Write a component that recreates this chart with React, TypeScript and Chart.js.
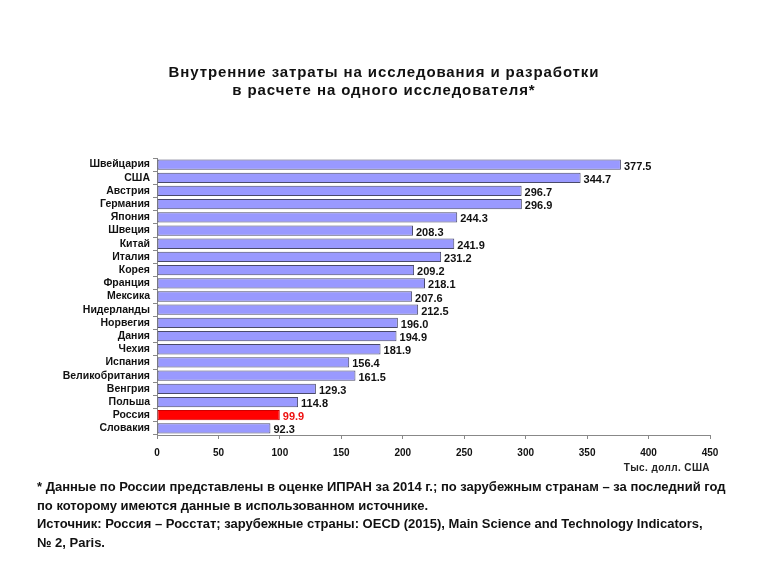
import React, { useEffect, useRef } from "react";
import { Chart, registerables } from "chart.js";

Chart.register(...registerables);

const categories = [
  "Швейцария", "США", "Австрия", "Германия", "Япония", "Швеция", "Китай",
  "Италия", "Корея", "Франция", "Мексика", "Нидерланды", "Норвегия", "Дания",
  "Чехия", "Испания", "Великобритания", "Венгрия", "Польша", "Россия", "Словакия",
];
const values = [
  377.5, 344.7, 296.7, 296.9, 244.3, 208.3, 241.9, 231.2, 209.2, 218.1, 207.6,
  212.5, 196.0, 194.9, 181.9, 156.4, 161.5, 129.3, 114.8, 99.9, 92.3,
];
const highlight = "Россия";
const xTicks = [0, 50, 100, 150, 200, 250, 300, 350, 400, 450];

const titleLines = [
  "Внутренние затраты на исследования и разработки",
  "в расчете на одного исследователя*",
];
const unitLabel = "Тыс. долл. США";
const footnoteLines = [
  "* Данные по России представлены в оценке ИПРАН за 2014 г.; по зарубежным странам – за последний год",
  "по которому имеются данные в использованном источнике.",
  "Источник: Россия – Росстат; зарубежные страны: OECD (2015), Main Science and Technology Indicators,",
  "№ 2, Paris.",
];

const FONT = "'Liberation Sans', Arial, sans-serif";

const valueLabels = {
  id: "valueLabels",
  afterDatasetsDraw(chart: any) {
    const ctx = chart.ctx;
    const meta = chart.getDatasetMeta(0);
    ctx.save();
    ctx.font = `bold 11px ${FONT}`;
    ctx.textBaseline = "middle";
    ctx.textAlign = "left";
    meta.data.forEach((bar: any, i: number) => {
      ctx.fillStyle = categories[i] === highlight ? "#ee1111" : "#111111";
      ctx.fillText(values[i].toFixed(1), bar.x + 3, bar.y + 2);
    });
    ctx.restore();
  },
};

export default function App() {
  const ref = useRef<HTMLCanvasElement>(null);
  useEffect(() => {
    const chart = new Chart(ref.current!, {
      type: "bar",
      data: {
        labels: categories,
        datasets: [
          {
            data: values,
            backgroundColor: categories.map((c) => (c === highlight ? "#ff0000" : "#9999ff")),
            borderColor: categories.map((c) => (c === highlight ? "#cc0000" : "#4a4a6a")),
            borderWidth: 1,
            borderSkipped: false,
            barPercentage: 0.78,
            categoryPercentage: 1,
          },
        ],
      },
      options: {
        indexAxis: "y",
        animation: false,
        responsive: false,
        devicePixelRatio: 1,
        layout: { padding: { left: 0, right: 58, top: 158, bottom: 111 } },
        plugins: { legend: { display: false }, tooltip: { enabled: false }, title: { display: false } },
        scales: {
          x: {
            min: 0,
            max: 450,
            afterBuildTicks: (scale: any) => {
              scale.ticks = xTicks.map((v) => ({ value: v }));
            },
            afterFit: (scale: any) => {
              scale.height = 30;
            },
            grid: { drawOnChartArea: false, color: "#888888", tickLength: 4 },
            border: { color: "#888888" },
            ticks: { color: "#111111", font: { family: FONT, size: 10, weight: "bold" }, padding: 8, maxRotation: 0 },
          },
          y: {
            afterFit: (scale: any) => {
              scale.width = 157;
            },
            grid: { drawOnChartArea: false, color: "#888888", tickLength: 4, offset: true },
            border: { color: "#888888" },
            ticks: { color: "#111111", font: { family: FONT, size: 10.5, weight: "bold" }, padding: 3, autoSkip: false },
          },
        },
      },
      plugins: [valueLabels],
    } as any);
    return () => chart.destroy();
  }, []);

  return (
    <div style={{ position: "absolute", left: 0, top: 0, width: 768, height: 576, background: "#fff", overflow: "hidden" }}>
      <canvas ref={ref} width={768} height={576} style={{ position: "absolute", left: 0, top: 0, width: 768, height: 576 }} />
      <div
        style={{
          position: "absolute", left: 0, top: 63, width: 768, textAlign: "center",
          fontFamily: FONT, fontWeight: "bold", fontSize: 15, lineHeight: "18px", color: "#111",
          letterSpacing: "0.9px",
        }}
      >
        {titleLines.map((t, i) => (
          <div key={i}>{t}</div>
        ))}
      </div>
      <div
        style={{
          position: "absolute", right: 58, top: 462, fontFamily: FONT, fontWeight: "bold",
          fontSize: 10, color: "#222", whiteSpace: "nowrap", letterSpacing: "0.4px",
        }}
      >
        {unitLabel}
      </div>
      <div
        style={{
          position: "absolute", left: 37, top: 478,
          fontFamily: FONT, fontWeight: "bold", fontSize: 13, lineHeight: "18.5px", color: "#111",
          whiteSpace: "nowrap",
        }}
      >
        {footnoteLines.map((t, i) => (
          <div key={i}>{t}</div>
        ))}
      </div>
    </div>
  );
}
